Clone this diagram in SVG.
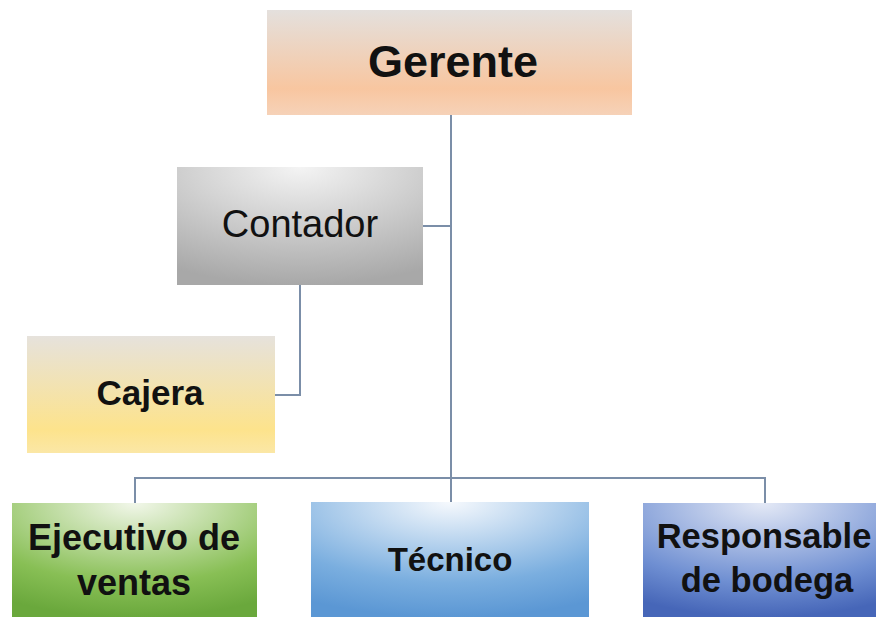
<svg xmlns="http://www.w3.org/2000/svg" width="876" height="617" viewBox="0 0 876 617">
<style>
.t{font-family:"Liberation Sans",Arial,sans-serif;fill:#111;text-anchor:middle}
.b{font-weight:bold}
.c{fill:none;stroke:#7b8ea8;stroke-width:2}
</style>
<defs>
<linearGradient id="gPeach" x1="0" y1="0" x2="0" y2="1">
<stop offset="0" stop-color="#e4e0dd"/><stop offset="0.75" stop-color="#f8c6a0"/><stop offset="1" stop-color="#f6d2b8"/>
</linearGradient>
<linearGradient id="gYel" x1="0" y1="0" x2="0" y2="1">
<stop offset="0" stop-color="#e6e2dc"/><stop offset="0.8" stop-color="#fde38c"/><stop offset="1" stop-color="#fbe7a6"/>
</linearGradient>
<radialGradient id="gGray" cx="0.5" cy="0" r="1">
<stop offset="0" stop-color="#f4f4f4"/><stop offset="1" stop-color="#a8a8a8"/>
</radialGradient>
<radialGradient id="gGreen" cx="0.5" cy="0" r="1">
<stop offset="0" stop-color="#f2f7ea"/><stop offset="0.7" stop-color="#88bf55"/><stop offset="1" stop-color="#6aa83c"/>
</radialGradient>
<radialGradient id="gBlue" cx="0.5" cy="0" r="1">
<stop offset="0" stop-color="#f6f9fd"/><stop offset="0.7" stop-color="#7aaedf"/><stop offset="1" stop-color="#5b97d4"/>
</radialGradient>
<radialGradient id="gNavy" cx="0.5" cy="0" r="1">
<stop offset="0" stop-color="#e4e9f6"/><stop offset="0.7" stop-color="#6f8fd2"/><stop offset="1" stop-color="#4666b8"/>
</radialGradient>
</defs>
<g id="connectors">
<path class="c" d="M451 115 V502"/>
<path class="c" d="M423 226 H451"/>
<path class="c" d="M300 285 V395 H275"/>
<path class="c" d="M135 503 V478 H765 V503"/>
</g>
<g id="gerente">
<rect x="267" y="10" width="365" height="105" fill="url(#gPeach)"/>
<text class="t b" x="453" y="77" font-size="45">Gerente</text>
</g>
<g id="contador">
<rect x="177" y="167" width="246" height="118" fill="url(#gGray)"/>
<text class="t" x="300" y="237" font-size="38">Contador</text>
</g>
<g id="cajera">
<rect x="27" y="336" width="248" height="117" fill="url(#gYel)"/>
<text class="t b" x="150" y="405" font-size="35">Cajera</text>
</g>
<g id="ejecutivo">
<rect x="12" y="503" width="245" height="114" fill="url(#gGreen)"/>
<text class="t b" x="134" y="550" font-size="36">Ejecutivo de</text>
<text class="t b" x="134" y="595" font-size="36">ventas</text>
</g>
<g id="tecnico">
<rect x="311" y="502" width="278" height="115" fill="url(#gBlue)"/>
<text class="t b" x="450" y="571" font-size="33">Técnico</text>
</g>
<g id="responsable">
<rect x="643" y="503" width="240" height="114" fill="url(#gNavy)"/>
<text class="t b" x="764" y="548" font-size="34.5">Responsable</text>
<text class="t b" x="767" y="592" font-size="34.5">de bodega</text>
</g>
</svg>
